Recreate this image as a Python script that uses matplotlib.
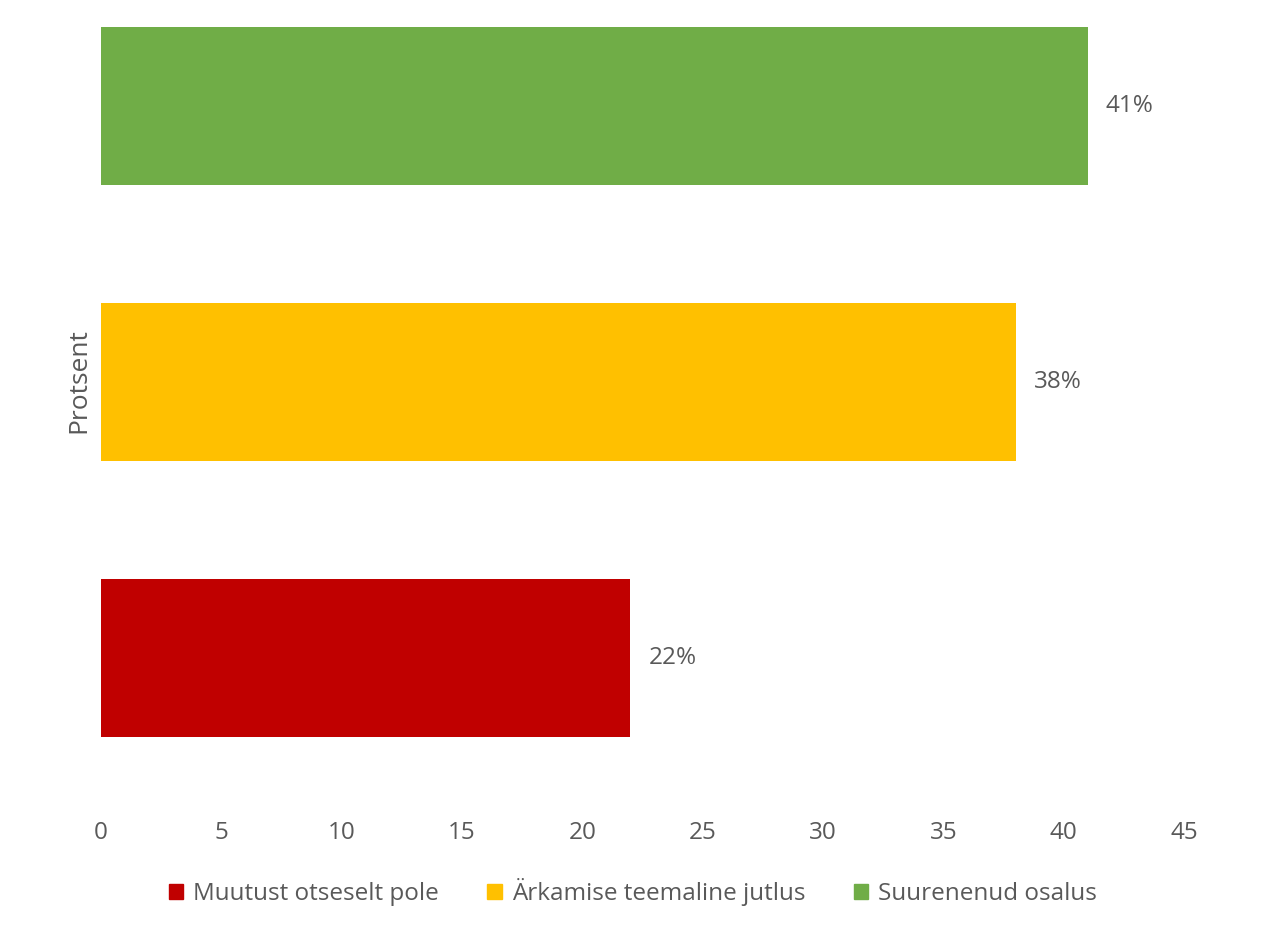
import matplotlib.pyplot as plt
from matplotlib.patches import Patch

plt.rcParams['font.family'] = ['Open Sans', 'DejaVu Sans']

categories = ['Muutust otseselt pole', 'Ärkamise teemaline jutlus', 'Suurenenud osalus']
values = [22, 38, 41]
colors = ['#C00000', '#FFC000', '#70AD47']
xticks = [0, 5, 10, 15, 20, 25, 30, 35, 40, 45]

txt = '#595959'
fs = 17.5

fig = plt.figure(figsize=(12.81, 9.31), dpi=100)
ax = fig.add_axes([0.0788, 0.1439, 0.8455, 0.8451])

pos = list(range(len(values)))
bars = ax.barh(pos, values, height=0.573, color=colors)
ax.bar_label(bars, labels=[f'{v}%' for v in values], padding=13, fontsize=fs, color=txt)

ax.set_xlim(0, 45)
ax.set_ylim(-0.504, 2.348)
ax.set_xticks(xticks)
ax.set_yticks([])
ax.tick_params(axis='x', length=0, pad=17, labelsize=fs, labelcolor=txt)
for s in ax.spines.values():
    s.set_visible(False)

ax.set_ylabel('Protsent', fontsize=19, color=txt)
# label sits centred on the middle bar, not the axes
ax.yaxis.set_label_coords(-0.0085, 0.529)

handles = [Patch(color=c, label=l) for c, l in zip(colors, categories)]
fig.legend(handles=handles, loc='center', bbox_to_anchor=(0.494, 0.042), ncol=3,
           frameon=False, fontsize=fs, labelcolor=txt, handlelength=0.6, handleheight=0.6,
           handletextpad=0.4, columnspacing=2.0)

fig.savefig('out.png', dpi=100)
